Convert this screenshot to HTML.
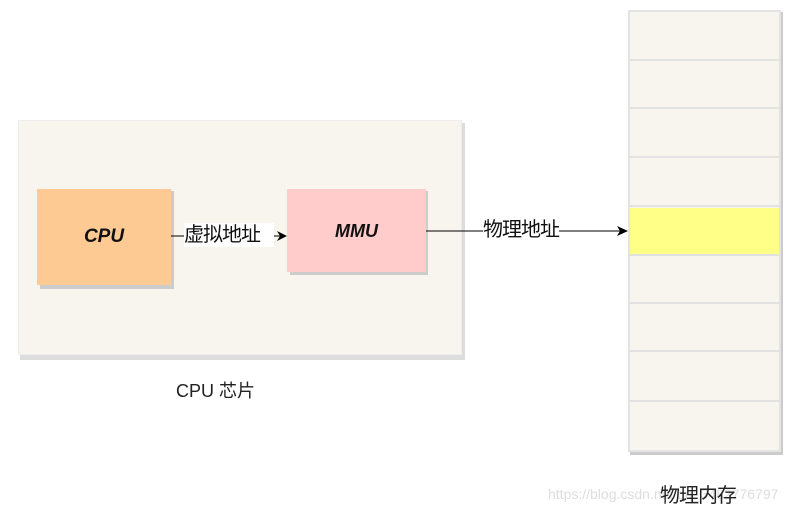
<!DOCTYPE html>
<html><head><meta charset="utf-8"><style>
body{margin:0;width:801px;height:513px;background:#fff;position:relative;overflow:hidden;font-family:"Liberation Sans","Noto Sans CJK SC",sans-serif}
.a{position:absolute}
</style></head><body>
<div class="a" style="left:20px;top:123px;width:445px;height:237px;background:#ddd"></div>
<div class="a" style="left:18px;top:120px;width:444px;height:235px;background:#f7f5ee;border:1px solid #eee;box-sizing:border-box"></div>
<div class="a" style="left:40px;top:191px;width:134px;height:98px;background:#ccc"></div>
<div class="a" style="left:37px;top:189px;width:134px;height:96px;background:#fdca94"></div>
<div class="a" style="left:37px;top:226px;width:134px;text-align:center;font-size:19px;font-weight:bold;font-style:italic;color:#111">CPU</div>
<div class="a" style="left:290px;top:191px;width:138px;height:84px;background:#ccc"></div>
<div class="a" style="left:287px;top:189px;width:139px;height:83px;background:#ffcbcb"></div>
<div class="a" style="left:287px;top:221px;width:139px;text-align:center;font-size:18px;font-weight:bold;font-style:italic;color:#111">MMU</div>
<svg class="a" style="left:0;top:0" width="801" height="513">
<line x1="171" y1="236" x2="280" y2="236" stroke="#000" stroke-width="1"/>
<polygon points="287,236 277,231 280,236 277,241" fill="#000"/>
<line x1="426" y1="231" x2="620" y2="231" stroke="#000" stroke-width="1"/>
<polygon points="628,231 617,226 620,231 617,236" fill="#000"/>
</svg>
<div class="a" style="left:184px;top:223px;width:90px;background:#fff;font-size:20px;line-height:24px;color:#111;letter-spacing:-1px">虚拟地址</div>
<div class="a" style="left:483px;top:218px;background:#fff;font-size:20px;line-height:24px;color:#111;letter-spacing:-1px">物理地址</div>
<div class="a" style="left:176px;top:377px;font-size:18px;color:#222">CPU 芯片</div>
<div class="a" style="left:630px;top:12px;width:153px;height:443px;background:#ccc"></div>
<div class="a" style="left:628px;top:10px;width:153px;height:442px;background:#f7f5ee;border:2px solid #e4e4e4;box-sizing:border-box"></div>
<div class="a" style="left:630px;top:208px;width:149px;height:46px;background:#ffff88"></div>
<div class="a" style="left:628px;top:59px;width:153px;height:2px;background:#e2e2e2"></div>
<div class="a" style="left:628px;top:107px;width:153px;height:2px;background:#e2e2e2"></div>
<div class="a" style="left:628px;top:156px;width:153px;height:2px;background:#e2e2e2"></div>
<div class="a" style="left:628px;top:205px;width:153px;height:2px;background:#e2e2e2"></div>
<div class="a" style="left:628px;top:254px;width:153px;height:2px;background:#e2e2e2"></div>
<div class="a" style="left:628px;top:302px;width:153px;height:2px;background:#e2e2e2"></div>
<div class="a" style="left:628px;top:350px;width:153px;height:2px;background:#e2e2e2"></div>
<div class="a" style="left:628px;top:400px;width:153px;height:2px;background:#e2e2e2"></div>
<div class="a" style="left:548px;top:486px;font-size:14px;color:#ddd;white-space:nowrap">https://blog.csdn.net/qq_3482776797</div>
<div class="a" style="left:660px;top:479px;font-size:20px;color:#222;letter-spacing:-1px">物理内存</div>
</body></html>
